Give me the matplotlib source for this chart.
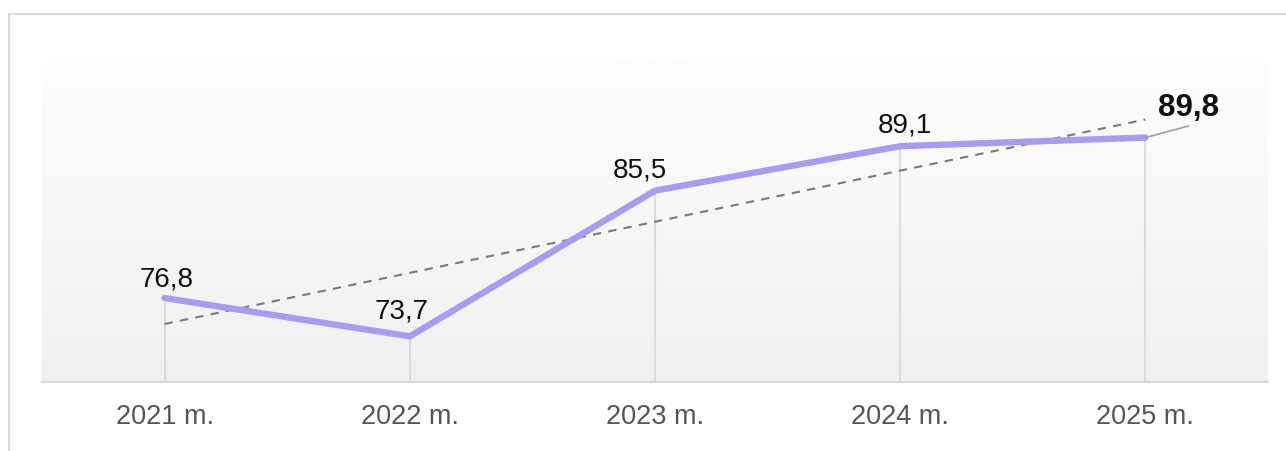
import matplotlib
matplotlib.use("Agg")
import matplotlib.pyplot as plt
import numpy as np
from matplotlib.patches import Rectangle

plt.rcParams["font.family"] = ["Liberation Sans", "DejaVu Sans"]

years = ["2021 m.", "2022 m.", "2023 m.", "2024 m.", "2025 m."]
values = [76.8, 73.7, 85.5, 89.1, 89.8]
value_labels = ["76,8", "73,7", "85,5", "89,1", "89,8"]

# label offsets in pixels (dx, dy) relative to each point
label_offsets = [(2, 13), (-8, 19), (-15, 14), (5, 15), (43, 23)]

W, H = 1286, 452
fig = plt.figure(figsize=(W / 100, H / 100), dpi=100)
fig.patch.set_facecolor("white")

# outer card border
fig.patches.append(Rectangle((8.5 / W, -0.1), 2.0, (H - 14.5) / H + 0.1,
                             transform=fig.transFigure, fill=False,
                             edgecolor="#dadada", linewidth=1.5))

ax = fig.add_axes([42 / W, (H - 383) / H, (1268 - 42) / W, (383 - 62) / H])
ax.set_xlim(-0.5, len(years) - 0.5)
ax.set_ylim(70, 96)

# gradient background
grad = np.linspace(0, 1, 256).reshape(-1, 1)
ax.imshow(grad, extent=(0, 1, 0, 1), transform=ax.transAxes, aspect="auto",
          cmap=matplotlib.colors.LinearSegmentedColormap.from_list(
              "bg", ["#f0f0f0", "#fefefe"]),
          origin="lower", zorder=0)

x = np.arange(len(years))
ax.vlines(x, 70, values, color="#dcdcdc", linewidth=1.5, zorder=1)

# linear trend
k, b = np.polyfit(x, values, 1)
ax.plot(x, k * x + b, color="#7a7a7a", linewidth=1.5, linestyle=(0, (4, 3.5)),
        zorder=2)

ax.plot(x, values, color="#a99bf2", linewidth=4.6, solid_capstyle="round",
        solid_joinstyle="round", zorder=3)

for i, (xi, v, lab) in enumerate(zip(x, values, value_labels)):
    dx, dy = label_offsets[i]
    last = i == len(values) - 1
    ax.annotate(lab, (xi, v), xytext=(dx, dy), textcoords="offset pixels",
                ha="center", va="baseline",
                fontsize=22.5 if last else 20,
                fontweight="bold" if last else "normal",
                color="#111111", zorder=4)

# leader line for the last label
ax.annotate("", (x[-1], values[-1]), xytext=(43, 11.5), textcoords="offset pixels",
            arrowprops=dict(arrowstyle="-", color="#a0a0a0", lw=1.2,
                            shrinkA=0, shrinkB=0), zorder=4)

for s in ["top", "right", "left"]:
    ax.spines[s].set_visible(False)
ax.spines["bottom"].set_color("#d9d9d9")
ax.spines["bottom"].set_linewidth(1.5)
ax.spines["bottom"].set_zorder(5)

ax.set_yticks([])
ax.set_xticks(x)
ax.set_xticklabels(years, fontsize=19.5, color="#555555")
ax.tick_params(axis="x", length=0, pad=15)

fig.savefig("out.png", dpi=100)
